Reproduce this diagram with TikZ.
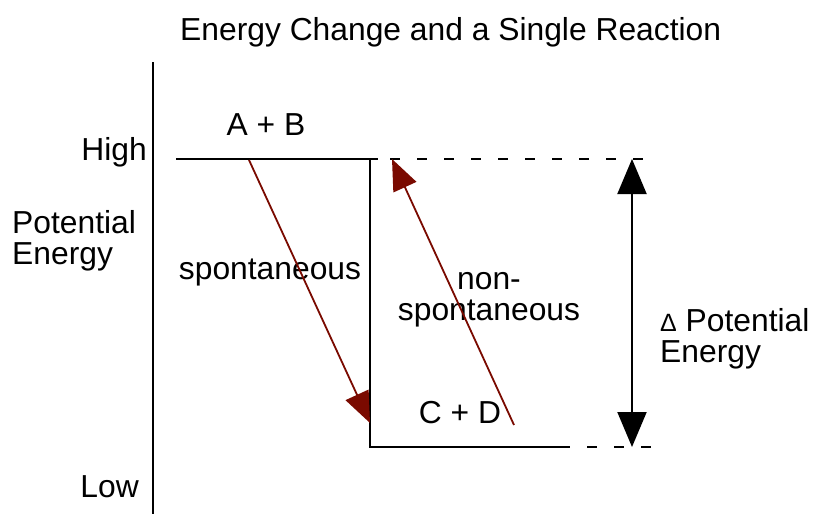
\documentclass[tikz,border=0pt]{standalone}
\usepackage{fontspec}
\setmainfont{Liberation Sans}
\usetikzlibrary{arrows.meta}

\definecolor{rxnred}{RGB}{122,10,0}

\begin{document}
\begin{tikzpicture}[x=1pt, y=-1pt,
    txt/.style = {inner sep=0pt, font=\fontsize{31.8}{30.5}\selectfont},
    level/.style = {draw, line width=2pt},
    gap/.style = {draw, line width=2pt, dash pattern=on 10pt off 17pt},
    react/.style = {draw=rxnred, line width=1.8pt, -{Triangle[length=31pt,width=25pt,fill=rxnred]}},
    delta/.style = {draw, line width=2pt, {Triangle[length=35pt,width=29pt]}-{Triangle[length=35pt,width=29pt]}}]
    \useasboundingbox (0,0) rectangle (814,514);

    % labels
    \node[txt, anchor=base west] (title) at (180,40) {Energy Change and a Single Reaction};
    \node[txt, anchor=base east] (high) at (147,160) {High};
    \node[txt, anchor=base east] (low) at (139,497) {Low};
    \node[txt, anchor=base west, align=left] (pe) at (12,264) {Potential\\Energy};
    \node[txt, anchor=base] (ab) at (266,135) {A + B};
    \node[txt, anchor=base] (cd) at (460,423) {C + D};
    \node[txt, anchor=base] (spon) at (270,279) {spontaneous};
    \node[txt, anchor=base, align=center] (nonspon) at (489,320) {non-\\spontaneous};
    \node[txt, anchor=base west, align=left] (dpe) at (660,362) {{\fontsize{25}{25}\selectfont Δ} Potential\\Energy};

    % axis and levels
    \coordinate (axtop) at (153,62);
    \coordinate (axbot) at (153,514);
    \coordinate (hiL) at (176,159);
    \coordinate (hiR) at (378,159);
    \coordinate (hiC) at (370,159);
    \coordinate (loL) at (370,447);
    \coordinate (loR) at (570,447);
    \coordinate (hiD) at (390,159);
    \coordinate (hiE) at (646,159);
    \coordinate (loD) at (587,447);
    \coordinate (loE) at (652,447);

    \draw[level] (axtop) -- (axbot);
    \draw[level] (hiL) -- (hiR);
    \draw[level] (hiC) -- (loL) -- (loR);
    \draw[gap] (hiD) -- (hiE);
    \draw[gap] (loD) -- (loE);

    % reactions
    \coordinate (fwdA) at (249,160);
    \coordinate (fwdB) at (370,423);
    \coordinate (bckA) at (514,425);
    \coordinate (bckB) at (392,159);
    \coordinate (dTop) at (632,159);
    \coordinate (dBot) at (632,447);

    \draw[react] (fwdA) -- (fwdB);
    \draw[react] (bckA) -- (bckB);
    \draw[delta] (dTop) -- (dBot);
\end{tikzpicture}
\end{document}
